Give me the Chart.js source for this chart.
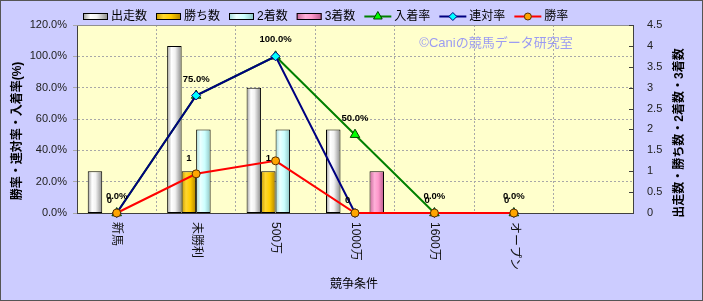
<!DOCTYPE html>
<html><head><meta charset="utf-8">
<script src="https://cdn.jsdelivr.net/npm/chart.js@4"></script>
<style>html,body{margin:0;padding:0;background:#ccccff;}canvas{display:block;}</style>
</head><body>
<canvas id="c" width="703" height="301"></canvas>
<script>
const categories = ['新馬','未勝利','500万','1000万','1600万','オープン',''];
const runs = [1,4,3,2,0,0,null];
const wins = [0,1,1,0,0,0,null];
const seconds = [0,2,2,0,0,0,null];
const thirds = [0,0,0,1,0,0,null];
const placeRate = [0,75,100,50,0,0,null];
const quinellaRate = [0,75,100,0,0,0,null];
const winRate = [0,25,33.3,0,0,0,null];
const leftTickValues = [0,20,40,60,80,100,120];
const rightTickValues = [0,0.5,1,1.5,2,2.5,3,3.5,4,4.5];

const FONT = '"Liberation Sans", "Noto Sans CJK JP", sans-serif';
const CAT_PCT = 0.73;
const STOPS = {
  runs: [[0,'#9a9a9a'],[0.3,'#ffffff'],[0.55,'#f2f2f2'],[1,'#8a8a8a']],
  wins: [[0,'#c89a00'],[0.3,'#ffd630'],[0.6,'#ffcc00'],[1,'#b08400']],
  seconds: [[0,'#9fd8d8'],[0.3,'#eaffff'],[0.6,'#ccffff'],[1,'#8cc4c4']],
  thirds: [[0,'#c8679a'],[0.35,'#ffb0d8'],[0.6,'#ff99cc'],[1,'#b85a8a']]
};
function barGrad(stops){
  return function(c){
    const chart = c.chart, xs = chart.scales.x;
    if(!chart.chartArea || !xs || c.dataIndex === undefined) return stops[2][1];
    const cx = xs.getPixelForValue(c.dataIndex);
    const catW = xs.width / categories.length;
    const bw = catW * CAT_PCT / 4;
    const left = cx + (c.datasetIndex - 2) * bw;
    const g = chart.ctx.createLinearGradient(left,0,left+bw,0);
    stops.forEach(s=>g.addColorStop(s[0],s[1]));
    return g;
  };
}
function bw(c){ const v = c.raw; return v ? 1 : 0; }

const bgPlugin = {
  id:'bgPlugin',
  beforeDraw(chart){
    const ctx = chart.ctx, a = chart.chartArea;
    ctx.save();
    ctx.fillStyle = '#ccccff'; ctx.fillRect(0,0,chart.width,chart.height);
    ctx.fillStyle = '#ffffcc'; ctx.fillRect(a.left,a.top,a.right-a.left,a.bottom-a.top);
    ctx.restore();
  },
  beforeDatasetsDraw(chart){
    const ctx = chart.ctx, a = chart.chartArea, ys = chart.scales.y1;
    ctx.save();
    ctx.strokeStyle = '#909090'; ctx.lineWidth = 1;
    ctx.beginPath(); ctx.moveTo(a.left, a.top+0.5); ctx.lineTo(a.right, a.top+0.5); ctx.stroke();
    // inward tick marks on right axis
    ctx.strokeStyle = '#404040';
    rightTickValues.forEach(v=>{
      const y = Math.round(ys.getPixelForValue(v)) + 0.5;
      ctx.beginPath(); ctx.moveTo(a.right-4, y); ctx.lineTo(a.right, y); ctx.stroke();
    });
    // watermark
    ctx.fillStyle = '#9c9cf2';
    ctx.font = '13px ' + FONT; ctx.textAlign='center'; ctx.textBaseline='middle';
    ctx.fillText('©Caniの競馬データ研究室', 496, 43);
    ctx.restore();
  },
  afterDatasetsDraw(chart){
    const ctx = chart.ctx;
    ctx.save();
    ctx.fillStyle = '#000'; ctx.font = 'bold 9.5px ' + FONT;
    ctx.textAlign = 'center'; ctx.textBaseline = 'middle';
    const mw = chart.getDatasetMeta(1);
    mw.data.forEach((el,i)=>{ const v = wins[i]; if(v===null) return; ctx.fillText(String(v), el.x, el.y-13); });
    const mp = chart.getDatasetMeta(4);
    mp.data.forEach((el,i)=>{ const v = placeRate[i]; if(v===null) return; ctx.fillText(v.toFixed(1)+'%', el.x, el.y-16.5); });
    ctx.restore();
  },
  afterDraw(chart){
    const ctx = chart.ctx, a = chart.chartArea, xs = chart.scales.x;
    ctx.save();
    // x tick labels (rotated, reading top to bottom)
    ctx.fillStyle = '#111'; ctx.font = '12px ' + FONT;
    ctx.textAlign = 'left'; ctx.textBaseline = 'middle';
    categories.forEach((lab,i)=>{
      const x = xs.getPixelForValue(i);
      ctx.save(); ctx.translate(x, a.bottom+9); ctx.rotate(Math.PI/2); ctx.fillText(lab,0,0); ctx.restore();
    });
    // axis titles
    ctx.fillStyle = '#000';
    ctx.textAlign = 'center';
    ctx.font = '12px ' + FONT;
    ctx.fillText('競争条件', 354, 285);
    ctx.font = 'bold 12px ' + FONT;
    ctx.save(); ctx.translate(18,131); ctx.rotate(-Math.PI/2); ctx.fillText('勝率・連対率・入着率(%)',0,0); ctx.restore();
    ctx.save(); ctx.translate(680,133); ctx.rotate(-Math.PI/2); ctx.fillText('出走数・勝ち数・2着数・3着数',0,0); ctx.restore();
    // legend
    let x = 83; const y = 16.5;
    ctx.font = '12px ' + FONT; ctx.textAlign='left'; ctx.textBaseline='middle';
    chart.data.datasets.forEach(ds=>{
      if(ds.type==='bar'){
        const g = ctx.createLinearGradient(x,0,x+25,0);
        ds._stops.forEach(s=>g.addColorStop(s[0],s[1]));
        ctx.fillStyle = g; ctx.fillRect(x, y-3.5, 25, 7);
        ctx.strokeStyle = '#000'; ctx.lineWidth = 1; ctx.strokeRect(x+0.5, y-3, 24, 6);
        x += 28;
      } else {
        ctx.strokeStyle = ds.borderColor; ctx.lineWidth = 2;
        ctx.beginPath(); ctx.moveTo(x, y); ctx.lineTo(x+27, y); ctx.stroke();
        ctx.fillStyle = ds.pointBackgroundColor; ctx.strokeStyle = ds.pointBorderColor; ctx.lineWidth = 1;
        Chart.helpers.drawPoint(ctx, {pointStyle: ds.pointStyle, radius: ds.pointRadius-0.5, rotation:0, borderWidth:1}, x+13.5, y);
        x += 30;
      }
      ctx.fillStyle = '#000';
      ctx.fillText(ds.label, x, y);
      x += ctx.measureText(ds.label).width + 9;
    });
    // outer border
    ctx.strokeStyle = '#555'; ctx.lineWidth = 1;
    ctx.strokeRect(0.5,0.5,chart.width-1,chart.height-1);
    ctx.restore();
  }
};

const barCommon = { type:'bar', yAxisID:'y1', order:10, borderColor:'#000', borderWidth:bw, borderSkipped:false, barPercentage:1, categoryPercentage:CAT_PCT };
const lineCommon = { type:'line', yAxisID:'y', borderWidth:2, tension:0, clip:false, pointBorderWidth:1 };

new Chart(document.getElementById('c'), {
  data: {
    labels: categories,
    datasets: [
      Object.assign({label:'出走数', data:runs, backgroundColor:barGrad(STOPS.runs), _stops:STOPS.runs}, barCommon),
      Object.assign({label:'勝ち数', data:wins, backgroundColor:barGrad(STOPS.wins), _stops:STOPS.wins}, barCommon),
      Object.assign({label:'2着数', data:seconds, backgroundColor:barGrad(STOPS.seconds), _stops:STOPS.seconds}, barCommon),
      Object.assign({label:'3着数', data:thirds, backgroundColor:barGrad(STOPS.thirds), _stops:STOPS.thirds}, barCommon),
      Object.assign({label:'入着率', data:placeRate, order:3, borderColor:'#008000', pointStyle:'triangle', pointRadius:5.5, pointBackgroundColor:'#00ff00', pointBorderColor:'#004000'}, lineCommon),
      Object.assign({label:'連対率', data:quinellaRate, order:2, borderColor:'#000080', pointStyle:'rectRot', pointRadius:4.5, pointBackgroundColor:'#00ffff', pointBorderColor:'#000080'}, lineCommon),
      Object.assign({label:'勝率', data:winRate, order:1, borderColor:'#ff0000', pointStyle:'circle', pointRadius:4, pointBackgroundColor:'#ffa500', pointBorderColor:'#5a3000'}, lineCommon)
    ]
  },
  options: {
    responsive:false, animation:false, devicePixelRatio:1,
    layout:{padding:{top:25,left:0,right:0,bottom:0}},
    plugins:{legend:{display:false}, tooltip:{enabled:false}},
    scales:{
      x:{ type:'category', offset:true,
        grid:{display:true, offset:true, color:'#a8a8a8', drawTicks:false},
        border:{display:true, color:'#404040', dash:[2,2]},
        ticks:{display:false},
        afterFit(s){ s.height = 88; } },
      y:{ position:'left', min:0, max:120,
        afterBuildTicks(s){ s.ticks = leftTickValues.map(v=>({value:v})); },
        ticks:{ callback:v=>v.toFixed(1)+'%', font:{size:11, family:FONT}, color:'#222', padding:6 },
        grid:{ color:'#a8a8a8', tickLength:4 },
        border:{ color:'#404040', dash:[2,2] },
        afterFit(s){ s.width = 77; } },
      y1:{ position:'right', min:0, max:4.5,
        afterBuildTicks(s){ s.ticks = rightTickValues.map(v=>({value:v})); },
        ticks:{ callback:v=>String(v), font:{size:11, family:FONT}, color:'#222', padding:6 },
        grid:{ display:false },
        border:{ display:true, color:'#404040' },
        afterFit(s){ s.width = 70; } }
    }
  },
  plugins:[bgPlugin]
});
</script>
</body></html>
